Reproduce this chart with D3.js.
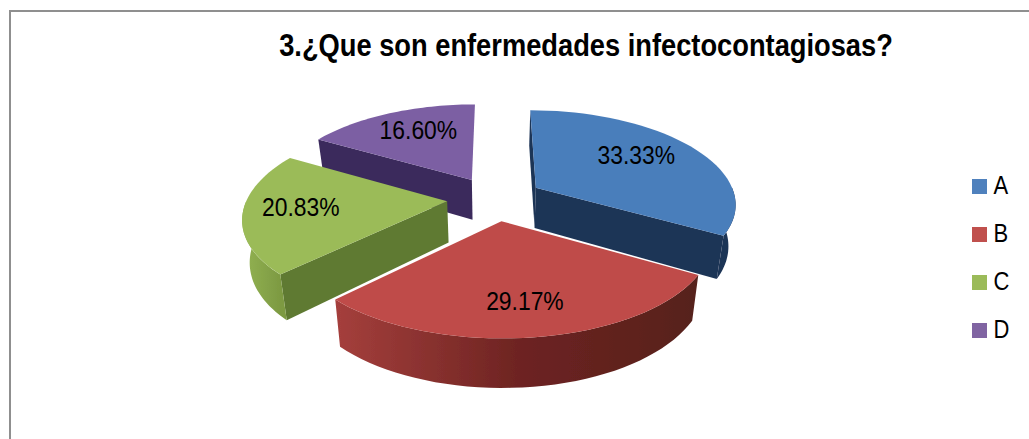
<!DOCTYPE html>
<html>
<head>
<meta charset="utf-8">
<script src="https://cdn.jsdelivr.net/npm/d3@7"></script>
<style>
  html, body { margin: 0; padding: 0; background: #fff; }
  svg { display: block; }
  text { font-family: "Liberation Sans", Arial, sans-serif; fill: #000; }
</style>
</head>
<body>
<div id="chart"></div>
<script>
// chart data
const titleText = "3.¿Que son enfermedades infectocontagiosas?";
const categories = ["A", "B", "C", "D"];
const values = [33.33, 29.17, 20.83, 16.60];
const valueLabels = ["33.33%", "29.17%", "20.83%", "16.60%"];

// colours per slice: top face, flat walls, arc wall stops from left to right
const topColors = ["#4a7ebb", "#bf4c49", "#9bbb59", "#7c5fa3"];
const wallColors = ["#1f3557", "#5a1f1c", "#5f7a33", "#3a2a5c"];
const arcColors = [["#1f3557", "#1f3557"], ["#a53f3c", "#6e2422", "#56201b"], ["#93b353", "#7d9a42"], ["#3a2a5c", "#3a2a5c"]];
const legendColors = ["#4f81bd", "#c0504d", "#9bbb59", "#8064a2"];

const width = 1029, height = 439;
const textSqueeze = 0.88; // the reference text is narrower than the font

const svg = d3.select("#chart").append("svg")
    .attr("width", width)
    .attr("height", height);

const defs = svg.append("defs");
defs.append("filter").attr("id", "soft")
    .append("feGaussianBlur").attr("stdDeviation", 0.6);

// chart frame, open to the right and bottom of the crop
svg.append("path")
    .attr("d", `M10,${height} V11 H${width}`)
    .attr("fill", "none")
    .attr("stroke", "#8f8f8f")
    .attr("stroke-width", 2);

svg.append("text")
    .attr("transform", `translate(586,56) scale(${textSqueeze},1)`)
    .attr("text-anchor", "middle")
    .attr("font-size", 31)
    .attr("font-weight", "bold")
    .text(titleText);

// pie layout, clockwise from 12 o'clock, in the given order
const pie = d3.pie().sort(null).value(d => d);
const arcs = pie(values);

// projection of the tilted plane, with a little perspective
const cx = 495, cy = 198.5, radius = 200, explode = 48, tilt = 0.46, depth = 41;
const perspX = 0.0008, perspY = 0.00075, perspDepth = 0.0007, converge = 0.03;

function project(px, py, down) {
    const x = px / (1 + perspX * py);
    const y = tilt * py / (1 + perspY * py);
    if (!down) return [cx + x, cy - y];
    // the walls narrow a little towards the floor
    return [cx + x * (1 - converge), cy - y + depth / (1 + perspDepth * py)];
}

function planePoint(d, angle, r) {
    const mid = (d.startAngle + d.endAngle) / 2;
    return [
        explode * Math.sin(mid) + r * Math.sin(angle),
        explode * Math.cos(mid) + r * Math.cos(angle)
    ];
}

function arcPoints(d, a0, a1, down) {
    return d3.range(0, 41).map(i => {
        const p = planePoint(d, a0 + (a1 - a0) * i / 40, radius);
        return project(p[0], p[1], down);
    });
}

const line = d3.line();
const slices = svg.append("g").attr("filter", "url(#soft)");

function flatWall(g, d, i, angle) {
    const apex = planePoint(d, 0, 0);
    const p = planePoint(d, angle, radius);
    g.append("path")
        .attr("d", line([project(apex[0], apex[1], false), project(p[0], p[1], false), project(p[0], p[1], true), project(apex[0], apex[1], true)]) + "Z")
        .attr("fill", wallColors[i]);
}

// back to front so the near slices sit on top
const drawOrder = [3, 0, 2, 1];

drawOrder.forEach(i => {
    const d = arcs[i];
    const g = slices.append("g");
    const apex = planePoint(d, 0, 0);
    const a0 = d.startAngle, a1 = d.endAngle;

    if (Math.sin(a0) < 0.01) flatWall(g, d, i, a0);
    if (Math.sin(a1) > 0.01) flatWall(g, d, i, a1);

    // outer wall, only the part facing the viewer
    const from = Math.max(a0, Math.PI / 2), to = Math.min(a1, Math.PI * 1.5);
    if (to > from) {
        const top = arcPoints(d, from, to, false);
        const bottom = arcPoints(d, from, to, true).reverse();
        const xs = top.map(p => p[0]);
        const gradId = "arc" + i;
        const grad = defs.append("linearGradient")
            .attr("id", gradId)
            .attr("gradientUnits", "userSpaceOnUse")
            .attr("x1", d3.min(xs)).attr("x2", d3.max(xs))
            .attr("y1", 0).attr("y2", 0);
        arcColors[i].forEach((c, k) => {
            grad.append("stop")
                .attr("offset", k / (arcColors[i].length - 1))
                .attr("stop-color", c);
        });
        g.append("path")
            .attr("d", line(top.concat(bottom)) + "Z")
            .attr("fill", `url(#${gradId})`);
    }
    // top face
    g.append("path")
        .attr("d", line([project(apex[0], apex[1], false)].concat(arcPoints(d, a0, a1, false))) + "Z")
        .attr("fill", topColors[i]);
});

// value labels, placed along each slice's middle angle
const labelFrac = [0.56, 0.6, 0.72, 0.62];
const labelNudge = [[11, -9], [5, 15], [0, -3], [0, -7]];

arcs.forEach((d, i) => {
    const mid = (d.startAngle + d.endAngle) / 2;
    const p = project(...planePoint(d, mid, radius * labelFrac[i]), false);
    svg.append("text")
        .attr("transform", `translate(${p[0] + labelNudge[i][0]},${p[1] + labelNudge[i][1] + 9}) scale(${textSqueeze},1)`)
        .attr("text-anchor", "middle")
        .attr("font-size", 26)
        .text(valueLabels[i]);
});

// legend
const legendY = d3.scalePoint().domain(categories).range([186.5, 330.5]);

const legend = svg.selectAll(".legend")
    .data(categories)
    .enter().append("g")
    .attr("class", "legend")
    .attr("transform", d => `translate(972,${legendY(d)})`);

legend.append("rect")
    .attr("y", -7.5)
    .attr("width", 15)
    .attr("height", 15)
    .attr("fill", (d, i) => legendColors[i]);

legend.append("text")
    .attr("transform", `translate(21.5,7) scale(${textSqueeze},1)`)
    .attr("font-size", 25)
    .text(d => d);
</script>
</body>
</html>
